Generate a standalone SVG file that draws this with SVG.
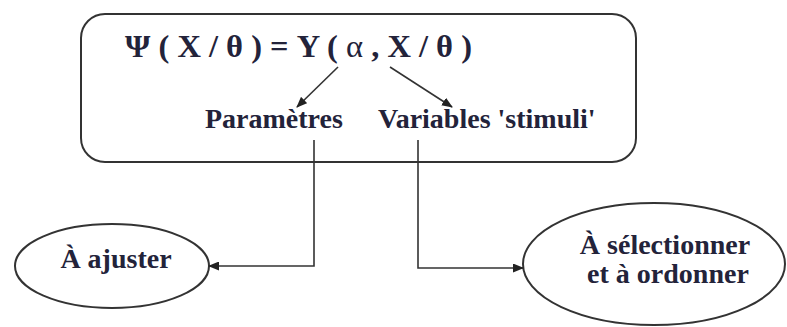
<svg xmlns="http://www.w3.org/2000/svg" width="787" height="327" viewBox="0 0 787 327">
<style>
.t{font-family:"Liberation Serif","Times New Roman",serif;font-weight:bold;fill:#23233a;font-size:28px}
.shape{fill:#fff;stroke:#333;stroke-width:2}
.c{fill:none;stroke:#333;stroke-width:1.6}
</style>
<defs>
<marker id="ah" markerWidth="11" markerHeight="9" refX="10" refY="4.5" orient="auto" markerUnits="userSpaceOnUse">
<path d="M0,0 L11,4.5 L0,9 z" fill="#222"/>
</marker>
</defs>
<rect width="787" height="327" fill="#fff"/>
<g id="box">
<rect class="shape" x="81" y="14" width="555" height="148" rx="24"/>
<text class="t" x="125" y="57" style="font-size:32px" textLength="347" lengthAdjust="spacingAndGlyphs">Ψ ( X / θ ) = Y ( <tspan font-weight="normal">α</tspan> , X / θ )</text>
<text class="t" x="205" y="128">Paramètres</text>
<text class="t" x="378" y="128">Variables 'stimuli'</text>
</g>
<g id="ajuster">
<ellipse class="shape" cx="112" cy="266" rx="97" ry="42"/>
<text class="t" x="116" y="268" text-anchor="middle">À ajuster</text>
</g>
<g id="selectionner">
<ellipse class="shape" cx="654" cy="264" rx="131" ry="61"/>
<text class="t" x="665" y="254" text-anchor="middle">À sélectionner</text>
<text class="t" x="668" y="283" text-anchor="middle">et à ordonner</text>
</g>
<g id="connectors">
<line class="c" x1="338" y1="67" x2="297" y2="107" marker-end="url(#ah)"/>
<line class="c" x1="390" y1="67" x2="452" y2="107" marker-end="url(#ah)"/>
<polyline class="c" points="314,140 314,266 209,266" marker-end="url(#ah)"/>
<polyline class="c" points="418,140 418,268 523,268" marker-end="url(#ah)"/>
</g>
</svg>
